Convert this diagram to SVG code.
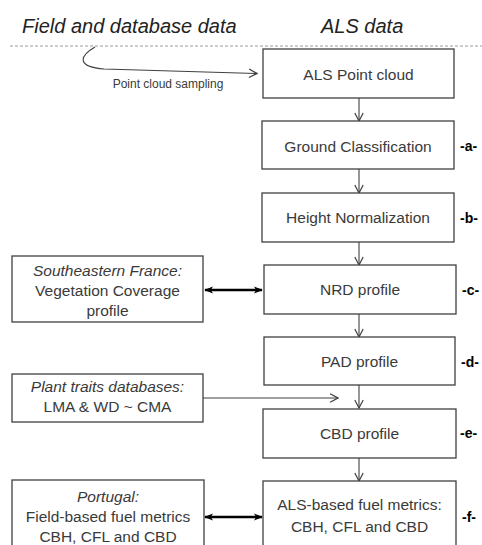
<svg xmlns="http://www.w3.org/2000/svg" width="482" height="545" viewBox="0 0 482 545">
<defs>
<marker id="open" viewBox="0 0 10 10" refX="9" refY="5" markerWidth="10" markerHeight="10" markerUnits="userSpaceOnUse" orient="auto">
<path d="M1,0.8 L9,5 L1,9.2" fill="none" stroke="#404040" stroke-width="1.2"/>
</marker>
<marker id="solid" viewBox="0 0 10 10" refX="9" refY="5" markerWidth="9" markerHeight="9" markerUnits="userSpaceOnUse" orient="auto-start-reverse">
<path d="M0,1 L10,5 L0,9 L2.5,5 Z" fill="#000"/>
</marker>
<style>
.box{fill:#fff;stroke:#404040;stroke-width:1.3}
.t{font-family:"Liberation Sans",Arial,sans-serif;font-size:15.5px;fill:#3a3a3a;text-anchor:middle}
.it{font-style:italic}
.h{font-family:"Liberation Sans",Arial,sans-serif;font-size:20px;font-style:italic;fill:#222}
.lab{font-family:"Liberation Sans",Arial,sans-serif;font-size:14px;font-weight:bold;fill:#000}
.c{fill:none;stroke:#404040;stroke-width:1.1}
.d{fill:none;stroke:#000;stroke-width:2.4}
</style>
</defs>
<g id="header">
<text class="h" x="22" y="33">Field and database data</text>
<text class="h" x="321" y="33">ALS data</text>
<line x1="10" y1="46" x2="482" y2="46" stroke="#9a9a9a" stroke-width="1" stroke-dasharray="3,2"/>
</g>
<g id="connectors">
<path class="c" d="M95,47 C78,57 78,67 104,69 L257,73.5" marker-end="url(#open)"/>
<text class="t" x="168" y="88" style="font-size:12px">Point cloud sampling</text>
<line class="c" x1="359" y1="98" x2="359" y2="121" marker-end="url(#open)"/>
<line class="c" x1="359" y1="169" x2="359" y2="193" marker-end="url(#open)"/>
<line class="c" x1="359" y1="242" x2="359" y2="265" marker-end="url(#open)"/>
<line class="c" x1="359" y1="314" x2="359" y2="337" marker-end="url(#open)"/>
<line class="c" x1="359" y1="385" x2="359" y2="408" marker-end="url(#open)"/>
<line class="c" x1="359" y1="458" x2="359" y2="481" marker-end="url(#open)"/>
<line class="c" x1="203" y1="398" x2="338" y2="398" marker-end="url(#open)"/>
<line class="d" x1="205" y1="290" x2="262" y2="290" marker-start="url(#solid)" marker-end="url(#solid)"/>
<line class="d" x1="205" y1="517" x2="262" y2="517" marker-start="url(#solid)" marker-end="url(#solid)"/>
</g>
<g id="als-point-cloud">
<rect class="box" x="263" y="49" width="191" height="49"/>
<text class="t" x="358.5" y="80">ALS Point cloud</text>
</g>
<g id="ground-classification">
<rect class="box" x="262" y="121" width="192" height="48"/>
<text class="t" x="358" y="152">Ground Classification</text>
<text class="lab" x="460" y="151">-a-</text>
</g>
<g id="height-normalization">
<rect class="box" x="262" y="193" width="192" height="49"/>
<text class="t" x="358" y="223">Height Normalization</text>
<text class="lab" x="460" y="223">-b-</text>
</g>
<g id="nrd-profile">
<rect class="box" x="264" y="265" width="192" height="49"/>
<text class="t" x="360" y="295">NRD profile</text>
<text class="lab" x="462" y="295">-c-</text>
</g>
<g id="pad-profile">
<rect class="box" x="264" y="337" width="191" height="48"/>
<text class="t" x="359.5" y="367">PAD profile</text>
<text class="lab" x="461" y="367">-d-</text>
</g>
<g id="cbd-profile">
<rect class="box" x="263" y="409" width="193" height="49"/>
<text class="t" x="359.5" y="439">CBD profile</text>
<text class="lab" x="460" y="438">-e-</text>
</g>
<g id="als-fuel-metrics">
<rect class="box" x="263" y="481" width="193" height="80"/>
<text class="t" x="359.5" y="510">ALS-based fuel metrics:</text>
<text class="t" x="359.5" y="532">CBH, CFL and CBD</text>
<text class="lab" x="462" y="522">-f-</text>
</g>
<g id="southeastern-france">
<rect class="box" x="12" y="256" width="191" height="66"/>
<text class="t it" x="107.5" y="276">Southeastern France:</text>
<text class="t" x="107.5" y="296">Vegetation Coverage</text>
<text class="t" x="107.5" y="316">profile</text>
</g>
<g id="plant-traits">
<rect class="box" x="12" y="374" width="191" height="48"/>
<text class="t it" x="107.5" y="392">Plant traits databases:</text>
<text class="t" x="107.5" y="412">LMA &amp; WD ~ CMA</text>
</g>
<g id="portugal">
<rect class="box" x="12" y="480" width="192" height="80"/>
<text class="t it" x="108" y="502">Portugal:</text>
<text class="t" x="108" y="522">Field-based fuel metrics</text>
<text class="t" x="108" y="542">CBH, CFL and CBD</text>
</g>
</svg>
